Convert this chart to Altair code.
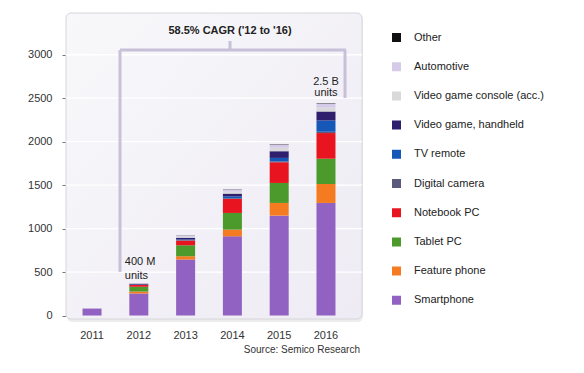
import altair as alt
import pandas as pd

years = ["2011", "2012", "2013", "2014", "2015", "2016"]

# legend order (top to bottom)
categories = ["Other", "Automotive", "Video game console (acc.)", "Video game, handheld",
              "TV remote", "Digital camera", "Notebook PC", "Tablet PC", "Feature phone", "Smartphone"]
colors = ["#111111", "#d5cbe8", "#d9d9dc", "#2f1d6e", "#1558b8", "#5c5a7c",
          "#e8141f", "#4c9a2c", "#f47b20", "#9262c2"]

smartphone = [80, 253, 644, 911, 1149, 1295]
feature_phone = [0, 23, 38, 77, 146, 218]
tablet_pc = [0, 55, 126, 192, 230, 291]
notebook_pc = [0, 20, 54, 161, 238, 295]
digital_camera = [0, 2, 5, 8, 10, 15]
tv_remote = [0, 3, 8, 22, 40, 130]
vg_handheld = [0, 8, 20, 31, 77, 103]
vg_console = [0, 4, 12, 22, 40, 45]
automotive = [0, 4, 14, 24, 37, 43]
other = [0, 1, 2, 3, 4, 5]

series = {
    "Smartphone": smartphone,
    "Feature phone": feature_phone,
    "Tablet PC": tablet_pc,
    "Notebook PC": notebook_pc,
    "Digital camera": digital_camera,
    "TV remote": tv_remote,
    "Video game, handheld": vg_handheld,
    "Video game console (acc.)": vg_console,
    "Automotive": automotive,
    "Other": other,
}

grid_values = [500, 1000, 1500, 2000, 2500, 3000]
y_ticks = [0, 500, 1000, 1500, 2000, 2500, 3000]

rows = []
for rank, (name, vals) in enumerate(series.items()):
    for yr, v in zip(years, vals):
        rows.append({"year": yr, "category": name, "units": v, "rank": rank})
df = pd.DataFrame(rows)

W, H = 296, 306
FONT = "Liberation Sans"
yscale = alt.Scale(domain=[-40, 3480], nice=False, zero=False)
xscale = alt.Scale(domain=years, paddingInner=0.594, paddingOuter=0.46, align=0.384)

yaxis = alt.Axis(title=None, values=y_ticks, format="d", grid=False, domain=False, tickSize=4,
                 tickColor="#777777", labelPadding=10, labelFontSize=11,
                 labelColor="#333333", labelFont=FONT)
xaxis = alt.Axis(title=None, ticks=False, domain=False, labelPadding=10, labelAngle=0,
                 labelFontSize=11, labelColor="#333333", labelFont=FONT, grid=False)

one = pd.DataFrame({"a": [0]})

shadow = alt.Chart(one).mark_rect(color="#000000", opacity=0.07, cornerRadius=5).encode(
    x=alt.value(1), x2=alt.value(W + 1), y=alt.value(2), y2=alt.value(H + 3))

bg = alt.Chart(one).mark_rect(
    color=alt.Gradient(gradient="linear",
                       stops=[alt.GradientStop(color="#f8f8fa", offset=0),
                              alt.GradientStop(color="#eeebf4", offset=1)],
                       x1=0, x2=1, y1=0, y2=1),
    cornerRadius=5, stroke="#d6d6da", strokeWidth=1).encode(
    x=alt.value(0), x2=alt.value(W), y=alt.value(0), y2=alt.value(H))

grid = alt.Chart(pd.DataFrame({"g": grid_values})).mark_rule(color="white", strokeWidth=1.3).encode(
    y=alt.Y("g:Q", scale=yscale, axis=yaxis), x=alt.value(0), x2=alt.value(W))

bars = alt.Chart(df).mark_bar(size=19).encode(
    x=alt.X("year:N", scale=xscale, sort=years, axis=xaxis),
    y=alt.Y("units:Q", stack="zero", scale=yscale, axis=yaxis),
    color=alt.Color("category:N", scale=alt.Scale(domain=categories, range=colors),
                    legend=alt.Legend(title=None, orient="none", legendX=323, legendY=17,
                                      symbolType="square", symbolSize=144,
                                      symbolStrokeColor="white", symbolStrokeWidth=3,
                                      symbolOpacity=1,
                                      labelFontSize=11, labelFont=FONT, labelColor="#222222",
                                      labelOffset=10, rowPadding=4.2, padding=0, labelLimit=220)),
    order=alt.Order("rank:Q", sort="ascending"),
)

rule_color = "#c8c0d9"
br_h = alt.Chart(pd.DataFrame({"y": [3054]})).mark_rule(color=rule_color, strokeWidth=3).encode(
    y=alt.Y("y:Q", scale=yscale, axis=yaxis), x=alt.value(54), x2=alt.value(280))
br_l = alt.Chart(pd.DataFrame({"y": [3054], "y2": [501]})).mark_rule(color=rule_color, strokeWidth=3).encode(
    y=alt.Y("y:Q", scale=yscale, axis=yaxis), y2="y2:Q", x=alt.value(54))
br_r = alt.Chart(pd.DataFrame({"y": [3054], "y2": [2502]})).mark_rule(color=rule_color, strokeWidth=3).encode(
    y=alt.Y("y:Q", scale=yscale, axis=yaxis), y2="y2:Q", x=alt.value(279))
br_c = alt.Chart(pd.DataFrame({"y": [3158], "y2": [3054]})).mark_rule(color=rule_color, strokeWidth=3).encode(
    y=alt.Y("y:Q", scale=yscale, axis=yaxis), y2="y2:Q", x=alt.value(164))

cagr = alt.Chart(pd.DataFrame({"t": ["58.5% CAGR ('12 to '16)"], "y": [3273]})).mark_text(
    font=FONT, fontSize=11, fontWeight="bold", color="#222222", align="center", baseline="middle").encode(
    x=alt.value(164), y=alt.Y("y:Q", scale=yscale, axis=yaxis), text="t:N")

ann = pd.DataFrame({
    "year": ["2012", "2012", "2016", "2016"],
    "t": ["400 M", "units", "2.5 B", "units"],
    "y": [616, 455, 2686, 2560],
})
ann_left = alt.Chart(ann[ann.year == "2012"]).mark_text(
    font=FONT, fontSize=11, color="#222222", align="left", baseline="middle", dx=-14).encode(
    x=alt.X("year:N", scale=xscale, sort=years, axis=xaxis),
    y=alt.Y("y:Q", scale=yscale, axis=yaxis), text="t:N")
ann_right = alt.Chart(ann[ann.year == "2016"]).mark_text(
    font=FONT, fontSize=11, color="#222222", align="center", baseline="middle").encode(
    x=alt.X("year:N", scale=xscale, sort=years, axis=xaxis),
    y=alt.Y("y:Q", scale=yscale, axis=yaxis), text="t:N")

source = alt.Chart(pd.DataFrame({"t": ["Source: Semico Research"]})).mark_text(
    font=FONT, fontSize=10, color="#333333", align="right", baseline="middle").encode(
    x=alt.value(294), y=alt.value(337), text="t:N")

chart = alt.layer(shadow, bg, grid, bars, br_h, br_l, br_r, br_c, cagr, ann_left, ann_right, source).properties(
    width=W, height=H,
    autosize=alt.AutoSizeParams(type="none"),
    padding={"left": 58, "top": 5, "right": 214, "bottom": 50},
    background="white",
).configure_view(stroke=None)

chart.save("out.html", embed_options={"renderer": "svg", "actions": False})
